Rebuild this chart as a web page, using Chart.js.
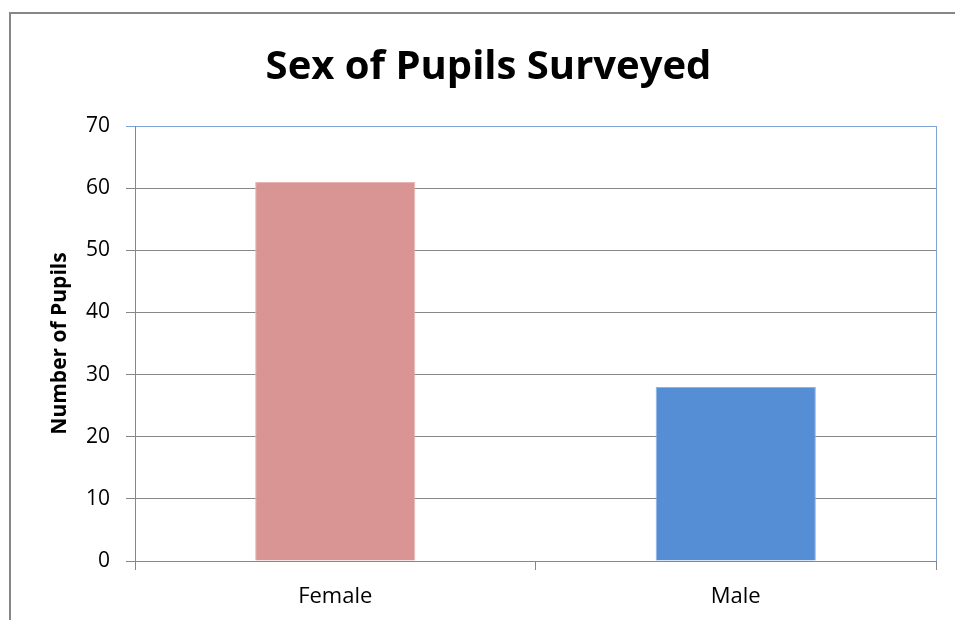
<!DOCTYPE html>
<html>
<head>
<meta charset="utf-8">
<title>Sex of Pupils Surveyed</title>
<script src="https://cdn.jsdelivr.net/npm/chart.js@4.4.1/dist/chart.umd.min.js"></script>
<style>
  html, body { margin: 0; padding: 0; background: #fff; }
  canvas { display: block; }
</style>
</head>
<body>
<canvas id="pupilChart" width="955" height="620"></canvas>
<script>
const categories = ["Female", "Male"];
const pupilCounts = [61, 28];
const barColors = ["#d99594", "#558ed5"];
const barEdges = ["#e8b6b5", "#8db3e6"];
const yTicks = [0, 10, 20, 30, 40, 50, 60, 70];

const FONT = "'Open Sans', sans-serif";

// Grey frame that runs off the right and bottom edges of the page
const outerFrame = {
    id: 'outerFrame',
    beforeDraw(chart) {
        const ctx = chart.ctx;
        ctx.save();
        ctx.strokeStyle = '#878787';
        ctx.lineWidth = 2;
        ctx.beginPath();
        ctx.moveTo(10, chart.height + 5);
        ctx.lineTo(10, 13);
        ctx.lineTo(chart.width + 5, 13);
        ctx.stroke();
        ctx.restore();
    }
};

// Blue edge on the right side of the plot area
const rightEdge = {
    id: 'rightEdge',
    afterDatasetsDraw(chart) {
        const { ctx, chartArea } = chart;
        ctx.save();
        ctx.strokeStyle = '#7fa5d8';
        ctx.lineWidth = 1;
        ctx.beginPath();
        ctx.moveTo(Math.round(chartArea.right) + 0.5, chartArea.top);
        ctx.lineTo(Math.round(chartArea.right) + 0.5, chartArea.bottom);
        ctx.stroke();
        ctx.restore();
    }
};

const ctx = document.getElementById('pupilChart').getContext('2d');

new Chart(ctx, {
    type: 'bar',
    data: {
        labels: categories,
        datasets: [{
            label: 'Number of Pupils',
            data: pupilCounts,
            backgroundColor: barColors,
            borderColor: barEdges,
            borderWidth: 1,
            categoryPercentage: 0.4,
            barPercentage: 1.0
        }]
    },
    options: {
        responsive: false,
        animation: false,
        layout: { padding: { left: 41, right: 19, top: 0, bottom: 0 } },
        plugins: {
            legend: { display: false },
            tooltip: { enabled: false },
            title: {
                display: true,
                text: 'Sex of Pupils Surveyed',
                color: '#000',
                font: { family: FONT, size: 40, weight: 'bold', lineHeight: 1.2 },
                padding: { top: 44, bottom: 34 }
            }
        },
        scales: {
            x: {
                afterFit: (scale) => { scale.height = 59; },
                grid: {
                    offset: true,
                    drawOnChartArea: false,
                    drawTicks: true,
                    tickLength: 9,
                    color: '#878787'
                },
                border: { color: '#878787' },
                ticks: {
                    color: '#000',
                    padding: 14,
                    font: { family: FONT, size: 22 }
                }
            },
            y: {
                min: 0,
                max: 70,
                afterFit: (scale) => { scale.width = 94; },
                afterBuildTicks: (scale) => {
                    scale.ticks = yTicks.map(v => ({ value: v }));
                },
                grid: {
                    tickLength: 9,
                    color: (c) => c.tick && c.tick.value === 70 ? '#7fa5d8' : '#878787'
                },
                border: { color: '#878787' },
                ticks: {
                    color: '#000',
                    padding: 16,
                    font: { family: FONT, size: 21 }
                },
                title: {
                    display: true,
                    text: 'Number of Pupils',
                    color: '#000',
                    font: { family: FONT, size: 21, weight: 'bold', lineHeight: 1.2 },
                    padding: { top: 6, bottom: 0 }
                }
            }
        }
    },
    plugins: [outerFrame, rightEdge]
});
</script>
</body>
</html>
